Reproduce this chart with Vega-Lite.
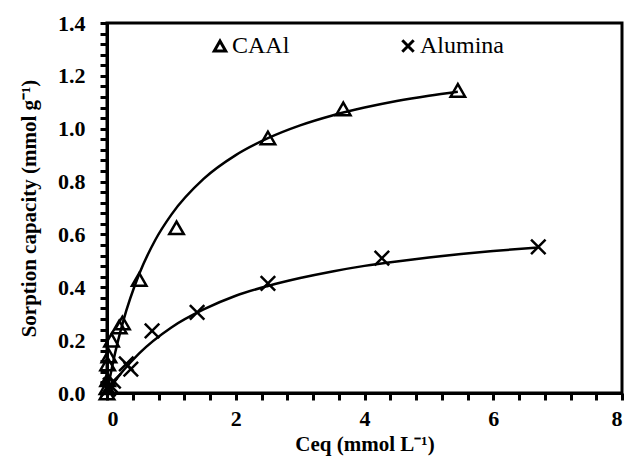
{
  "$schema": "https://vega.github.io/schema/vega-lite/v6.json",
  "width": 515,
  "height": 370,
  "autosize": {"type": "none"},
  "padding": {"left": 107, "top": 23, "right": 5, "bottom": 68},
  "background": "white",
  "config": {
    "view": {"stroke": "black", "strokeWidth": 3}
  },
  "datasets": {
    "points": [
      {"series": "CAAl", "c": 5.45, "q": 1.145},
      {"series": "CAAl", "c": 3.67, "q": 1.075},
      {"series": "CAAl", "c": 2.5, "q": 0.965},
      {"series": "CAAl", "c": 1.08, "q": 0.625},
      {"series": "CAAl", "c": 0.5, "q": 0.43},
      {"series": "CAAl", "c": 0.24, "q": 0.265},
      {"series": "CAAl", "c": 0.19, "q": 0.25},
      {"series": "CAAl", "c": 0.07, "q": 0.2},
      {"series": "CAAl", "c": 0.03, "q": 0.14},
      {"series": "CAAl", "c": 0.01, "q": 0.11},
      {"series": "CAAl", "c": 0.01, "q": 0.05},
      {"series": "CAAl", "c": 0.0, "q": 0.02},
      {"series": "CAAl", "c": 0.0, "q": 0.0},
      {"series": "Alumina", "c": 6.7, "q": 0.553},
      {"series": "Alumina", "c": 4.27, "q": 0.51},
      {"series": "Alumina", "c": 2.5, "q": 0.415},
      {"series": "Alumina", "c": 1.4, "q": 0.305},
      {"series": "Alumina", "c": 0.7, "q": 0.235},
      {"series": "Alumina", "c": 0.37, "q": 0.09},
      {"series": "Alumina", "c": 0.3, "q": 0.11},
      {"series": "Alumina", "c": 0.1, "q": 0.045},
      {"series": "Alumina", "c": 0.05, "q": 0.03},
      {"series": "Alumina", "c": 0.02, "q": 0.015}
    ],
    "curves": [
      {"series": "CAAl", "c": 0.0, "q": 0.0},
      {"series": "CAAl", "c": 0.1, "q": 0.123},
      {"series": "CAAl", "c": 0.25, "q": 0.27},
      {"series": "CAAl", "c": 0.5, "q": 0.45},
      {"series": "CAAl", "c": 0.75, "q": 0.579},
      {"series": "CAAl", "c": 1.0, "q": 0.675},
      {"series": "CAAl", "c": 1.5, "q": 0.81},
      {"series": "CAAl", "c": 2.0, "q": 0.9},
      {"series": "CAAl", "c": 2.5, "q": 0.964},
      {"series": "CAAl", "c": 3.0, "q": 1.0125},
      {"series": "CAAl", "c": 3.5, "q": 1.05},
      {"series": "CAAl", "c": 4.0, "q": 1.08},
      {"series": "CAAl", "c": 4.5, "q": 1.105},
      {"series": "CAAl", "c": 5.0, "q": 1.125},
      {"series": "CAAl", "c": 5.45, "q": 1.14},
      {"series": "Alumina", "c": 0.0, "q": 0.0},
      {"series": "Alumina", "c": 0.1, "q": 0.0365},
      {"series": "Alumina", "c": 0.25, "q": 0.084},
      {"series": "Alumina", "c": 0.5, "q": 0.15},
      {"series": "Alumina", "c": 1.0, "q": 0.248},
      {"series": "Alumina", "c": 1.5, "q": 0.316},
      {"series": "Alumina", "c": 2.0, "q": 0.368},
      {"series": "Alumina", "c": 2.5, "q": 0.405},
      {"series": "Alumina", "c": 3.0, "q": 0.435},
      {"series": "Alumina", "c": 3.5, "q": 0.46},
      {"series": "Alumina", "c": 4.0, "q": 0.481},
      {"series": "Alumina", "c": 4.5, "q": 0.498},
      {"series": "Alumina", "c": 5.0, "q": 0.513},
      {"series": "Alumina", "c": 5.5, "q": 0.526},
      {"series": "Alumina", "c": 6.0, "q": 0.537},
      {"series": "Alumina", "c": 6.7, "q": 0.551}
    ]
  },
  "encoding": {
    "x": {
      "field": "c",
      "type": "quantitative",
      "scale": {"domain": [0, 8], "nice": false, "zero": false},
      "axis": {
        "values": [0, 0.4, 0.8, 1.2, 1.6, 2, 2.4, 2.8, 3.2, 3.6, 4, 4.4, 4.8, 5.2, 5.6, 6, 6.4, 6.8, 7.2, 7.6, 8],
        "labelExpr": "abs(datum.value/2 - round(datum.value/2)) < 0.001 ? format(datum.value, 'd') : ''",
        "labelOverlap": false,
        "grid": false,
        "domain": true,
        "domainColor": "black",
        "domainWidth": 3,
        "ticks": true,
        "tickColor": "#000000",
        "tickWidth": 3,
        "tickSize": 7,
        "labelFont": "Liberation Serif",
        "labelFontWeight": "bold",
        "labelFontSize": 22,
        "labelColor": "black",
        "labelPadding": 8,
        "title": "Ceq (mmol L⁻¹)",
        "titleFont": "Liberation Serif",
        "titleFontWeight": "bold",
        "titleFontSize": 21,
        "titleColor": "black",
        "titlePadding": 4
      }
    },
    "y": {
      "field": "q",
      "type": "quantitative",
      "scale": {"domain": [0, 1.4], "nice": false, "zero": false},
      "axis": {
        "values": [0, 0.04, 0.08, 0.12, 0.16, 0.2, 0.24, 0.28, 0.32, 0.36, 0.4, 0.44, 0.48, 0.52, 0.56, 0.6, 0.64, 0.68, 0.72, 0.76, 0.8, 0.84, 0.88, 0.92, 0.96, 1.0, 1.04, 1.08, 1.12, 1.16, 1.2, 1.24, 1.28, 1.32, 1.36, 1.4],
        "labelExpr": "abs(datum.value*5 - round(datum.value*5)) < 0.001 ? format(datum.value, '.1f') : ''",
        "labelOverlap": false,
        "grid": false,
        "domain": true,
        "domainColor": "black",
        "domainWidth": 3,
        "ticks": true,
        "tickColor": "#000000",
        "tickWidth": 3,
        "tickSize": 7,
        "labelFont": "Liberation Serif",
        "labelFontWeight": "bold",
        "labelFontSize": 22,
        "labelColor": "black",
        "labelPadding": 15,
        "title": "Sorption capacity (mmol g⁻¹)",
        "titleFont": "Liberation Serif",
        "titleFontWeight": "bold",
        "titleFontSize": 21,
        "titleColor": "black",
        "titlePadding": 18
      }
    }
  },
  "layer": [
    {
      "data": {"name": "curves"},
      "mark": {"type": "line", "color": "black", "strokeWidth": 2.5, "interpolate": "monotone", "clip": true},
      "encoding": {
        "detail": {"field": "series"}
      }
    },
    {
      "data": {"name": "points"},
      "mark": {"type": "point", "filled": false, "color": "black", "strokeWidth": 2.5, "size": 210, "opacity": 1, "clip": false},
      "encoding": {
        "shape": {
          "field": "series",
          "type": "nominal",
          "scale": {"domain": ["CAAl", "Alumina"], "range": ["triangle-up", "M-1,-1L1,1M1,-1L-1,1"]},
          "legend": {
            "orient": "none",
            "legendX": 101,
            "legendY": 11,
            "direction": "horizontal",
            "title": null,
            "labelFont": "Liberation Serif",
            "labelFontSize": 24,
            "labelColor": "black",
            "labelOffset": 0,
            "symbolStrokeColor": "black",
            "symbolStrokeWidth": 3,
            "symbolSize": 130,
            "symbolFillColor": "transparent",
            "columnPadding": 106
          }
        }
      }
    }
  ]
}
